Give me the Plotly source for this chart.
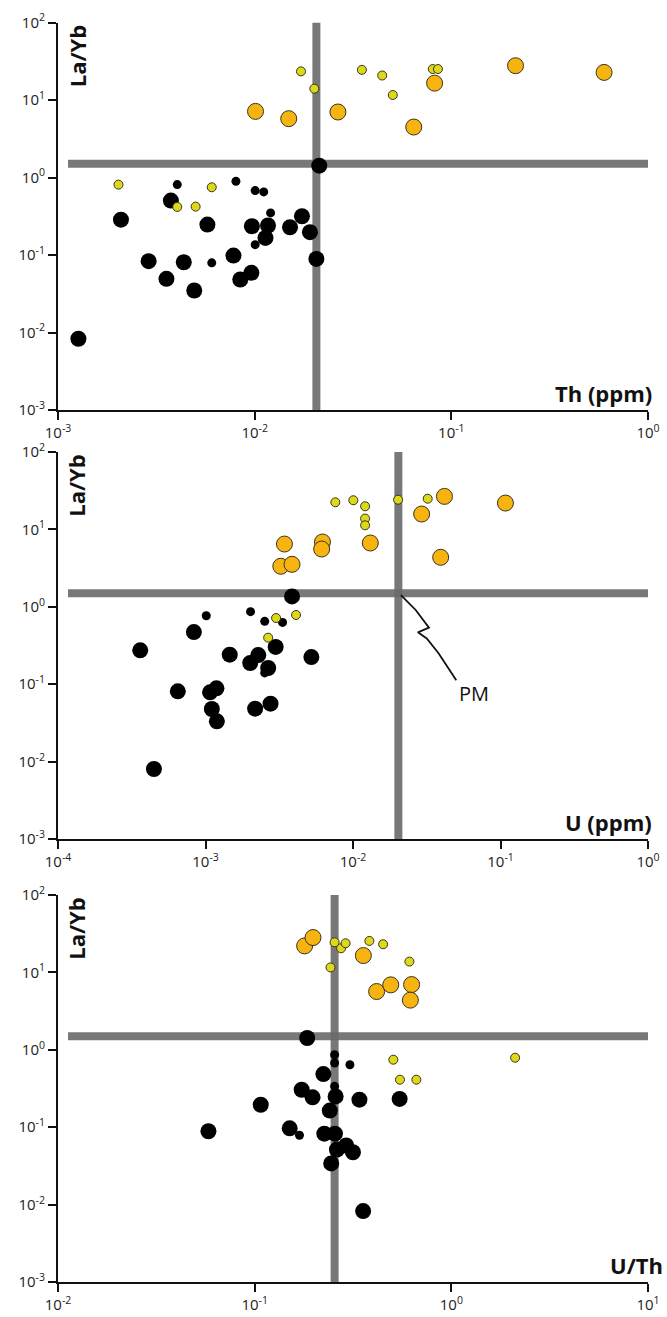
import math
import plotly.graph_objects as go

# ---------------- data ----------------
# Panel 1: Th (ppm) vs La/Yb
th_orange_x = [0.0101, 0.0149, 0.0265, 0.0644, 0.0822, 0.212, 0.598]
th_orange_y = [7.13, 5.74, 7.0, 4.48, 16.5, 27.7, 22.7]
th_yellow_x = [0.0172, 0.0201, 0.0351, 0.0445, 0.0504, 0.0805, 0.0855, 0.00203, 0.00605, 0.00404, 0.00501]
th_yellow_y = [23.4, 14.0, 24.5, 20.7, 11.6, 25.1, 25.1, 0.809, 0.748, 0.417, 0.421]
th_black_x = [0.0213, 0.00209, 0.00375, 0.00575, 0.00968, 0.01169, 0.01135, 0.01513, 0.0174, 0.0191,
              0.0206, 0.00289, 0.00436, 0.00356, 0.00493, 0.0078, 0.00845, 0.00962, 0.00127]
th_black_y = [1.42, 0.286, 0.504, 0.247, 0.235, 0.24, 0.166, 0.228, 0.316, 0.197,
              0.0891, 0.0832, 0.0807, 0.0492, 0.0348, 0.0984, 0.0483, 0.0589, 0.0083]
th_small_x = [0.00404, 0.00803, 0.01006, 0.01112, 0.01205, 0.01006, 0.00605]
th_small_y = [0.81, 0.893, 0.678, 0.652, 0.349, 0.136, 0.0793]

# Panel 2: U (ppm) vs La/Yb
u_orange_x = [0.00343, 0.00324, 0.00386, 0.00621, 0.00613, 0.0131, 0.0292, 0.0417, 0.0393, 0.108]
u_orange_y = [6.47, 3.34, 3.54, 6.87, 5.58, 6.67, 15.8, 26.7, 4.36, 21.9]
u_yellow_x = [0.00759, 0.01005, 0.01208, 0.01208, 0.01208, 0.0202, 0.0321, 0.00301, 0.00411, 0.00266]
u_yellow_y = [22.4, 23.8, 19.9, 13.8, 11.3, 24.2, 24.9, 0.716, 0.784, 0.399]
u_black_x = [0.00386, 0.000834, 0.000361, 0.00146, 0.00201, 0.00228, 0.00266, 0.00299, 0.00522,
             0.000649, 0.001074, 0.001186, 0.001104, 0.001194, 0.00217, 0.00276, 0.000447]
u_black_y = [1.36, 0.472, 0.274, 0.241, 0.188, 0.238, 0.162, 0.303, 0.224,
             0.0809, 0.0785, 0.0885, 0.0478, 0.0331, 0.0483, 0.056, 0.00802]
u_small_x = [0.001012, 0.00202, 0.00252, 0.00333, 0.00252]
u_small_y = [0.767, 0.865, 0.649, 0.629, 0.14]

# Panel 3: U/Th vs La/Yb
ut_orange_x = [0.1795, 0.198, 0.357, 0.417, 0.492, 0.628, 0.619]
ut_orange_y = [22.0, 28.2, 16.5, 5.66, 6.9, 6.96, 4.38]
ut_yellow_x = [0.255, 0.275, 0.290, 0.383, 0.450, 0.243, 0.612, 0.507, 0.548, 0.664, 2.11]
ut_yellow_y = [24.5, 20.5, 23.8, 25.5, 23.1, 11.6, 13.8, 0.745, 0.411, 0.411, 0.79]
ut_black_x = [0.185, 0.2235, 0.1734, 0.197, 0.258, 0.241, 0.341, 0.546, 0.1074, 0.0582, 0.1507,
              0.226, 0.256, 0.292, 0.316, 0.262, 0.245, 0.356]
ut_black_y = [1.42, 0.486, 0.305, 0.243, 0.250, 0.164, 0.227, 0.232, 0.195, 0.0887, 0.0968,
              0.0826, 0.0826, 0.058, 0.0475, 0.0514, 0.034, 0.00824]
ut_small_x = [0.255, 0.255, 0.305, 0.255, 0.169]
ut_small_y = [0.863, 0.675, 0.641, 0.337, 0.0787]

# Primitive mantle reference values
pm_th = 0.0206
pm_u = 0.0203
pm_uth = 0.255
pm_layb = 1.5

# Tick exponents
y_exps = [-3, -2, -1, 0, 1, 2]
x1_exps = [-3, -2, -1, 0]
x2_exps = [-4, -3, -2, -1, 0]
x3_exps = [-2, -1, 0, 1]

x_titles = ["Th (ppm)", "U (ppm)", "U/Th"]
y_title = "La/Yb"

# PM leader path (log10 coordinates in panel 2)
pm_path_lx = [-1.675, -1.575, -1.485, -1.560, -1.500, -1.420, -1.300]
pm_path_ly = [0.150, -0.041, -0.270, -0.330, -0.410, -0.600, -0.950]

# ---------------- styling ----------------
FONT = "Open Sans"
ORANGE = "#F7B410"
YELLOW = "#DCDA18"
EDGE = "#3a3320"
LINE_GRAY = "rgba(105,105,105,0.9)"
BIG = 16
SMALL = 9

W, H = 667, 1317
x_dom = [58 / W, 648 / W]
y_doms = [
    [1 - 410 / H, 1 - 22.5 / H],
    [1 - 839 / H, 1 - 452 / H],
    [1 - 1282 / H, 1 - 895 / H],
]

panels = [
    dict(ox=th_orange_x, oy=th_orange_y, yx=th_yellow_x, yy=th_yellow_y,
         bx=th_black_x, by=th_black_y, sx=th_small_x, sy=th_small_y,
         exps=x1_exps, pmx=pm_th),
    dict(ox=u_orange_x, oy=u_orange_y, yx=u_yellow_x, yy=u_yellow_y,
         bx=u_black_x, by=u_black_y, sx=u_small_x, sy=u_small_y,
         exps=x2_exps, pmx=pm_u),
    dict(ox=ut_orange_x, oy=ut_orange_y, yx=ut_yellow_x, yy=ut_yellow_y,
         bx=ut_black_x, by=ut_black_y, sx=ut_small_x, sy=ut_small_y,
         exps=x3_exps, pmx=pm_uth),
]


def sup(e):
    return "10<sup>%d</sup>" % e


fig = go.Figure()
layout = dict(
    width=W, height=H,
    margin=dict(l=0, r=0, t=0, b=0),
    paper_bgcolor="white", plot_bgcolor="white",
    showlegend=False,
    font=dict(family=FONT, color="#1a1a1a"),
)
annotations = []

for i, p in enumerate(panels):
    n = "" if i == 0 else str(i + 1)
    xa, ya = "x" + n, "y" + n
    xmin, xmax = p["exps"][0], p["exps"][-1]
    ymin, ymax = y_exps[0], y_exps[-1]
    dec_px = 590 / (xmax - xmin)
    hx0 = 10 ** (xmin + 10 / dec_px)

    # reference lines
    fig.add_trace(go.Scatter(x=[hx0, 10 ** xmax], y=[pm_layb, pm_layb], mode="lines",
                             line=dict(color=LINE_GRAY, width=8), xaxis=xa, yaxis=ya,
                             hoverinfo="skip"))
    fig.add_trace(go.Scatter(x=[p["pmx"], p["pmx"]], y=[10 ** ymin, 10 ** ymax], mode="lines",
                             line=dict(color=LINE_GRAY, width=8), xaxis=xa, yaxis=ya,
                             hoverinfo="skip"))

    # markers
    fig.add_trace(go.Scatter(x=p["bx"], y=p["by"], mode="markers", xaxis=xa, yaxis=ya,
                             marker=dict(size=BIG, color="black", line=dict(width=0))))
    fig.add_trace(go.Scatter(x=p["sx"], y=p["sy"], mode="markers", xaxis=xa, yaxis=ya,
                             marker=dict(size=SMALL, color="black", line=dict(width=0))))
    fig.add_trace(go.Scatter(x=p["ox"], y=p["oy"], mode="markers", xaxis=xa, yaxis=ya,
                             marker=dict(size=BIG, color=ORANGE, line=dict(width=1, color=EDGE))))
    fig.add_trace(go.Scatter(x=p["yx"], y=p["yy"], mode="markers", xaxis=xa, yaxis=ya,
                             marker=dict(size=SMALL, color=YELLOW, line=dict(width=1, color=EDGE))))

    common = dict(showgrid=False, zeroline=False, showline=True, linecolor="#111",
                  linewidth=2, ticks="outside", ticklen=8, tickwidth=2, tickcolor="#111",
                  tickfont=dict(family=FONT, size=15, color="#222"), automargin=False,
                  fixedrange=True)
    layout["xaxis" + n] = dict(common, type="log", range=[xmin, xmax], domain=x_dom,
                               anchor=ya,
                               tickvals=[10 ** e for e in p["exps"]],
                               ticktext=[sup(e) for e in p["exps"]])
    layout["yaxis" + n] = dict(common, type="log", range=[ymin, ymax], domain=y_doms[i],
                               anchor=xa,
                               tickvals=[10 ** e for e in y_exps],
                               ticktext=[sup(e) for e in y_exps])

    annotations.append(dict(text="<b>%s</b>" % y_title, xref=xa + " domain", yref=ya + " domain",
                            x=0.0315, y=0.997, xanchor="center", yanchor="top", textangle=-90,
                            showarrow=False, font=dict(family=FONT, size=22, color="#111")))
    xt_right = [1.011, 1.011, 1.028][i]
    annotations.append(dict(text="<b>%s</b>" % x_titles[i], xref=xa + " domain", yref=ya + " domain",
                            x=xt_right, y=0.045, xanchor="right", yanchor="middle",
                            showarrow=False, font=dict(family=FONT, size=22, color="#111")))

# PM leader line and label (panel 2)
fig.add_trace(go.Scatter(x=[10 ** v for v in pm_path_lx], y=[10 ** v for v in pm_path_ly],
                         mode="lines", line=dict(color="#111", width=1.8), xaxis="x2", yaxis="y2",
                         hoverinfo="skip"))
annotations.append(dict(text="PM", xref="x2 domain", yref="y2 domain", x=0.705, y=0.375,
                        xanchor="center", yanchor="middle", showarrow=False,
                        font=dict(family=FONT, size=20, color="#111")))

layout["annotations"] = annotations
fig.update_layout(**layout)
fig.write_html("out.html", config={"displayModeBar": False},
               post_script="document.body.style.margin='0';document.body.style.overflow='hidden';")
